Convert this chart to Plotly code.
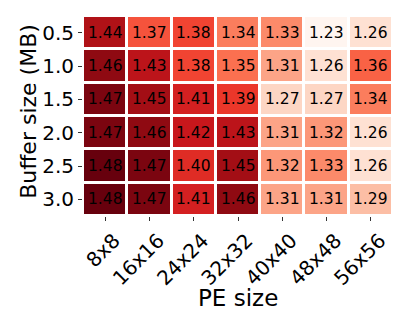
import plotly.graph_objects as go

pe_sizes = ["8x8", "16x16", "24x24", "32x32", "40x40", "48x48", "56x56"]
buffer_sizes = ["0.5", "1.0", "1.5", "2.0", "2.5", "3.0"]
speedup = [
    [1.44, 1.37, 1.38, 1.34, 1.33, 1.23, 1.26],
    [1.46, 1.43, 1.38, 1.35, 1.31, 1.26, 1.36],
    [1.47, 1.45, 1.41, 1.39, 1.27, 1.27, 1.34],
    [1.47, 1.46, 1.42, 1.43, 1.31, 1.32, 1.26],
    [1.48, 1.47, 1.40, 1.45, 1.32, 1.33, 1.26],
    [1.48, 1.47, 1.41, 1.46, 1.31, 1.31, 1.29],
]

reds = ['rgb(255,245,240)', 'rgb(254,224,210)', 'rgb(252,187,161)',
        'rgb(252,146,114)', 'rgb(251,106,74)', 'rgb(239,59,44)',
        'rgb(203,24,29)', 'rgb(165,15,21)', 'rgb(103,0,13)']
colorscale = [[i / (len(reds) - 1), c] for i, c in enumerate(reds)]

flat = [v for row in speedup for v in row]

fig = go.Figure(go.Heatmap(
    z=speedup, x=pe_sizes, y=buffer_sizes,
    colorscale=colorscale, zmin=min(flat), zmax=max(flat),
    showscale=False, xgap=3, ygap=3,
    hoverinfo="skip",
))

# cell labels, positioned by category index on the category axes
for ri, row in enumerate(speedup):
    for ci, v in enumerate(row):
        fig.add_annotation(
            x=ci, y=ri, text=f"{v:.2f}", showarrow=False,
            font=dict(size=15.5, color="black", family="DejaVu Sans"),
        )

fig.add_annotation(
    text="PE size", xref="paper", yref="paper", x=0.5, y=-0.41,
    xanchor="center", yanchor="middle", showarrow=False,
    font=dict(size=23, color="black", family="DejaVu Sans"),
)
fig.add_annotation(
    text="Buffer size (MB)", xref="paper", yref="paper", x=-0.178, y=0.525,
    xanchor="center", yanchor="middle", showarrow=False, textangle=-90,
    font=dict(size=22, color="black", family="DejaVu Sans"),
)

fig.update_layout(
    width=415, height=311,
    margin=dict(l=83, r=22, t=16, b=95),
    paper_bgcolor="white", plot_bgcolor="white",
    font=dict(family="DejaVu Sans", color="black", size=20),
)
fig.update_xaxes(
    type="category", automargin=False,
    tickangle=-45, ticks="outside", ticklen=4, tickcolor="#333",
    tickfont=dict(size=20), showgrid=False, zeroline=False,
    ticklabelshift=9,
)
fig.update_yaxes(
    type="category", automargin=False,
    autorange="reversed", ticks="outside", ticklen=4, tickcolor="#333",
    tickfont=dict(size=20), showgrid=False, zeroline=False,
)

fig.write_html("out.html", config={"displayModeBar": False},
               post_script="document.body.style.margin='0';")
